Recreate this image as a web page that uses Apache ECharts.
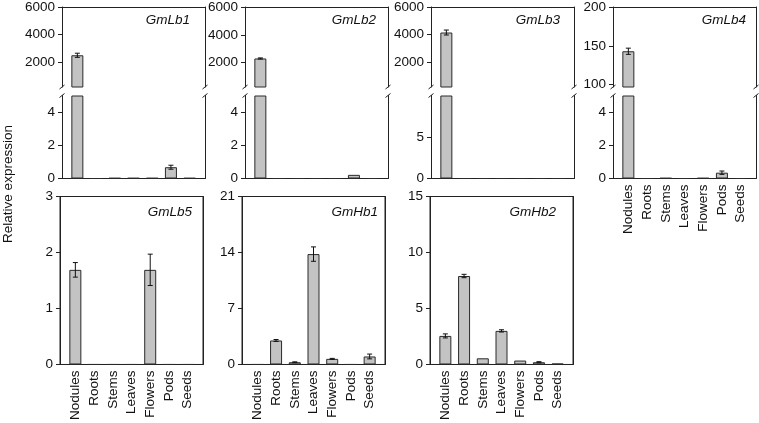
<!DOCTYPE html>
<html><head><meta charset="utf-8">
<script src="https://cdn.jsdelivr.net/npm/echarts@6/dist/echarts.min.js"></script>
<style>html,body{margin:0;padding:0;background:#fff}#c{width:759px;height:423px}</style>
</head><body><div id="c"></div>
<script>
// ---------- DATA ----------
const categories = ['Nodules', 'Roots', 'Stems', 'Leaves', 'Flowers', 'Pods', 'Seeds'];

const gmLb1 = [2500, 0, 0.03, 0.03, 0.03, 0.68, 0.03];
const gmLb1Err = [150, 0, 0, 0, 0, 0.12, 0];
const gmLb2 = [2300, 0, 0, 0, 0, 0.22, 0];
const gmLb2Err = [40, 0, 0, 0, 0, 0, 0];
const gmLb3 = [4150, 0, 0, 0, 0, 0, 0];
const gmLb3Err = [180, 0, 0, 0, 0, 0, 0];
const gmLb4 = [143, 0, 0.03, 0, 0.03, 0.35, 0];
const gmLb4Err = [4, 0, 0, 0, 0, 0.1, 0];
const gmLb5 = [1.69, 0, 0, 0, 1.69, 0, 0];
const gmLb5Err = [0.13, 0, 0, 0, 0.28, 0, 0];
const gmHb1 = [0, 3.0, 0.28, 13.8, 0.7, 0, 1.0];
const gmHb1Err = [0, 0.12, 0.05, 0.9, 0.06, 0, 0.3];
const gmHb2 = [2.55, 7.9, 0.55, 3.0, 0.35, 0.2, 0.08];
const gmHb2Err = [0.18, 0.15, 0, 0.1, 0, 0.05, 0];

const ticksLb1Upper = [2000, 4000, 6000];
const ticksLb1Lower = [0, 2, 4];
const ticksLb2Upper = [2000, 4000, 6000];
const ticksLb2Lower = [0, 2, 4];
const ticksLb3Upper = [2000, 4000, 6000];
const ticksLb3Lower = [0, 5];
const ticksLb4Upper = [100, 150, 200];
const ticksLb4Lower = [0, 2, 4];
const ticksLb5 = [0, 1, 2, 3];
const ticksHb1 = [0, 7, 14, 21];
const ticksHb2 = [0, 5, 10, 15];

// ---------- LAYOUT / STYLE ----------
const W = 143;
const UP_TOP = 6, UP_H = 81, LO_TOP = 95.5, LO_H = 83;
const B_TOP = 196.5, B_H = 171.5;
const X_MIN = -0.82, X_MAX = 6.82;
const FONT = '"Liberation Sans", Arial, sans-serif';
const TXT = '#111';
const LINE = '#222';
const BAR_FILL = '#c3c3c3';
const BAR_EDGE = '#2a2a2a';
const FS_Y = 13.5, FS_X = 13.5, FS_T = 13.5;

const brokenPanels = [
  { name: 'GmLb1', left: 62, titleRight: 190, values: gmLb1, errors: gmLb1Err,
    up: { min: 200, max: 6000, ticks: ticksLb1Upper }, lo: { max: 5, ticks: ticksLb1Lower }, labels: false },
  { name: 'GmLb2', left: 245, titleRight: 376, values: gmLb2, errors: gmLb2Err,
    up: { min: 250, max: 6000, ticks: ticksLb2Upper }, lo: { max: 5, ticks: ticksLb2Lower }, labels: false },
  { name: 'GmLb3', left: 431, titleRight: 560, values: gmLb3, errors: gmLb3Err,
    up: { min: 200, max: 6000, ticks: ticksLb3Upper }, lo: { max: 10, ticks: ticksLb3Lower }, labels: false },
  { name: 'GmLb4', left: 613, titleRight: 746, values: gmLb4, errors: gmLb4Err,
    up: { min: 97, max: 200, ticks: ticksLb4Upper }, lo: { max: 5, ticks: ticksLb4Lower }, labels: true }
];
const plainPanels = [
  { name: 'GmLb5', left: 60, titleRight: 192, values: gmLb5, errors: gmLb5Err, max: 3, ticks: ticksLb5 },
  { name: 'GmHb1', left: 242, titleRight: 378, values: gmHb1, errors: gmHb1Err, max: 21, ticks: ticksHb1 },
  { name: 'GmHb2', left: 430, titleRight: 556, values: gmHb2, errors: gmHb2Err, max: 15, ticks: ticksHb2 }
];

const option = { animation: false, backgroundColor: '#fff', grid: [], xAxis: [], yAxis: [], series: [], graphic: [] };

function renderErr(params, api) {
  const x = api.value(0), y = api.value(1), e = api.value(2);
  const t = api.coord([x, y + e]), b = api.coord([x, y - e]);
  const hw = 2.5;
  const st = { stroke: '#111', lineWidth: 1 };
  return { type: 'group', children: [
    { type: 'line', shape: { x1: t[0], y1: t[1], x2: b[0], y2: b[1] }, style: st },
    { type: 'line', shape: { x1: t[0] - hw, y1: t[1], x2: t[0] + hw, y2: t[1] }, style: st },
    { type: 'line', shape: { x1: b[0] - hw, y1: b[1], x2: b[0] + hw, y2: b[1] }, style: st }
  ] };
}

function addSegment(s) {
  const gi = option.grid.length;
  option.grid.push({ left: s.left, top: s.top, width: W, height: s.height,
    show: !!s.border, borderColor: LINE, borderWidth: 1, backgroundColor: 'transparent' });
  const xi = option.xAxis.length;
  option.xAxis.push({
    type: 'value', gridIndex: gi, min: X_MIN, max: X_MAX, position: s.xPos,
    axisLine: { show: true, onZero: false, lineStyle: { color: LINE, width: 1 } },
    axisTick: { show: false }, splitLine: { show: false },
    axisLabel: s.labels ? {
      show: true, customValues: categories.map((c, i) => i),
      formatter: v => categories[Math.round(v)] || '',
      rotate: 90, margin: 6, fontSize: FS_X, color: TXT, fontFamily: FONT
    } : { show: false }
  });
  const yi = option.yAxis.length;
  option.yAxis.push({
    type: 'value', gridIndex: gi, min: s.yMin, max: s.yMax, position: 'left',
    axisLine: { show: true, onZero: false, lineStyle: { color: LINE, width: 1 } },
    axisTick: { show: true, length: 4, customValues: s.ticks, lineStyle: { color: LINE } },
    axisLabel: { show: true, customValues: s.ticks, formatter: v => String(v),
      fontSize: FS_Y, margin: 7, color: TXT, fontFamily: FONT },
    splitLine: { show: false }
  });
  option.yAxis.push({
    type: 'value', gridIndex: gi, min: s.yMin, max: s.yMax, position: 'right',
    axisLine: { show: true, onZero: false, lineStyle: { color: LINE, width: 1 } },
    axisTick: { show: false }, axisLabel: { show: false }, splitLine: { show: false }
  });
  const barData = s.values.map((v, i) => {
    if (v < s.yMin) return [i, '-'];
    return [i, Math.min(v, s.yMax)];
  });
  const bar = {
    type: 'bar', xAxisIndex: xi, yAxisIndex: yi, data: barData, barWidth: 12,
    itemStyle: { color: BAR_FILL, borderColor: BAR_EDGE, borderWidth: 1 }, clip: true, silent: true
  };
  if (s.yMin > 0) bar.startValue = s.yMin;
  option.series.push(bar);
  const errData = s.values.map((v, i) => [i, v, s.errors[i]])
    .filter(d => d[2] > 0 && d[1] >= s.yMin && d[1] + d[2] <= s.yMax);
  option.series.push({ type: 'custom', xAxisIndex: xi, yAxisIndex: yi, data: errData,
    renderItem: renderErr, z: 5, silent: true });
}

function slash(x, y) {
  option.graphic.push({ type: 'line', silent: true,
    shape: { x1: x - 2.5, y1: y + 2, x2: x + 2.5, y2: y - 2 }, style: { stroke: LINE, lineWidth: 1 } });
}

brokenPanels.forEach(p => {
  addSegment({ left: p.left, top: UP_TOP, height: UP_H, yMin: p.up.min, yMax: p.up.max, ticks: p.up.ticks,
    xPos: 'top', labels: false, values: p.values, errors: p.errors });
  addSegment({ left: p.left, top: LO_TOP, height: LO_H, yMin: 0, yMax: p.lo.max, ticks: p.lo.ticks,
    xPos: 'bottom', labels: p.labels, values: p.values, errors: p.errors });
  [p.left, p.left + W].forEach(x => { slash(x, UP_TOP + UP_H); slash(x, LO_TOP); });
});
plainPanels.forEach(p => {
  addSegment({ left: p.left, top: B_TOP, height: B_H, yMin: 0, yMax: p.max, ticks: p.ticks,
    xPos: 'bottom', labels: true, border: true, values: p.values, errors: p.errors });
});

option.graphic = option.graphic.concat(
  brokenPanels.map(p => ({ type: 'text', silent: true, x: p.titleRight, y: 20,
    style: { text: p.name, fontSize: FS_T, fontStyle: 'italic', fontFamily: FONT, fill: TXT, align: 'right', verticalAlign: 'middle' } })),
  plainPanels.map(p => ({ type: 'text', silent: true, x: p.titleRight, y: 212,
    style: { text: p.name, fontSize: FS_T, fontStyle: 'italic', fontFamily: FONT, fill: TXT, align: 'right', verticalAlign: 'middle' } })),
  [{ type: 'text', silent: true, x: 8, y: 184, rotation: Math.PI / 2,
     style: { text: 'Relative expression', fontSize: 13.5, fontFamily: FONT, fill: TXT, align: 'center', verticalAlign: 'middle' } }]
);

const chart = echarts.init(document.getElementById('c'), null, { renderer: 'canvas' });
chart.setOption(option);
</script>
</body></html>
